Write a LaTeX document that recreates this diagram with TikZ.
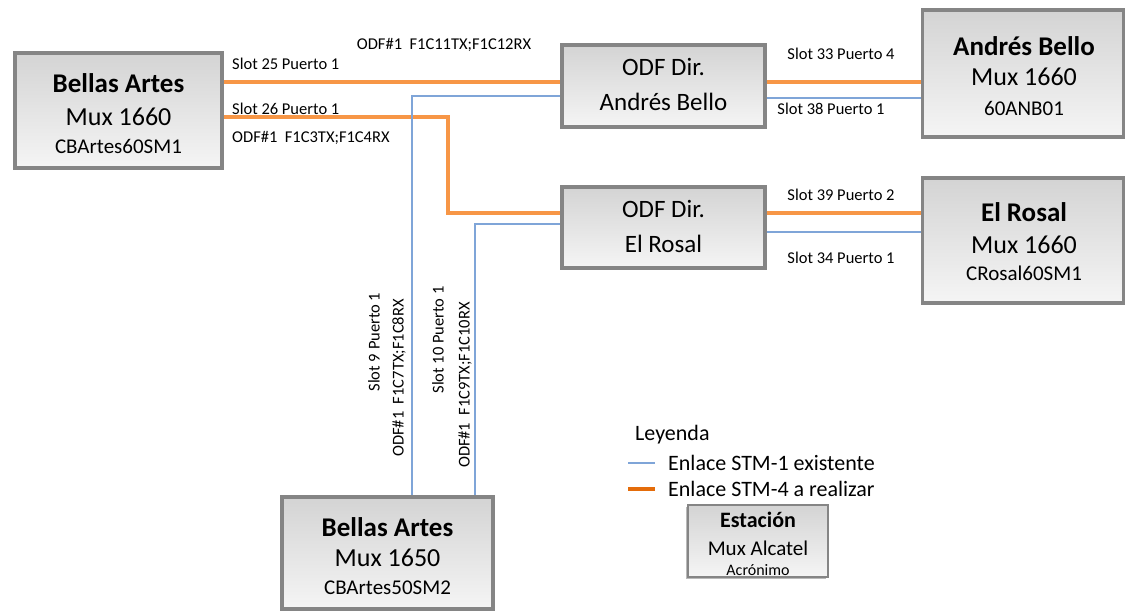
\documentclass[tikz,border=0pt]{standalone}
\usepackage{fontspec}
\setmainfont{Carlito}
\usepackage{tikz}
\usetikzlibrary{shadows,calc}

\definecolor{naranja}{HTML}{F79646}
\definecolor{naranjaleg}{HTML}{E46C0A}
\definecolor{azul}{HTML}{7FA5D8}
\definecolor{borde}{HTML}{858585}

\tikzset{
  caja/.style={draw=borde, line width=3.2pt, top color=black!17, bottom color=black!4,
    drop shadow={shadow xshift=-1.6pt, shadow yshift=-1.8pt, opacity=.55}},
  stm4/.style={draw=naranja, line width=3.2pt},
  stm1/.style={draw=azul, line width=1.3pt},
  etiq/.style={font=\fontsize{16.5}{19}\selectfont, inner sep=0pt},
  titulo/.style={font=\bfseries\fontsize{27}{31}\selectfont, inner sep=0pt},
  modelo/.style={font=\fontsize{26}{30}\selectfont, inner sep=0pt},
  acron/.style={font=\fontsize{21}{25}\selectfont, inner sep=0pt},
  odftxt/.style={font=\fontsize{25}{29}\selectfont, inner sep=0pt}
}

\begin{document}
\begin{tikzpicture}[x=1pt,y=-1pt]
    \useasboundingbox (0,0) rectangle (1131,613);

    % Bellas Artes Mux 1660
    \node[caja, minimum width=207pt, minimum height=115pt] (ba1) at (118.5,110.5) {};
    \node[titulo] (ba1t) at (118.5,83) {Bellas Artes};
    \node[modelo] (ba1m) at (118.5,117) {Mux 1660};
    \node[acron] (ba1a) at (118.5,146) {CBArtes60SM1};

    % ODF Dir. Andres Bello
    \node[caja, minimum width=203pt, minimum height=82pt] (odfab) at (663.5,86) {};
    \node[odftxt] (odfab1) at (663.5,67) {ODF Dir.};
    \node[odftxt] (odfab2) at (663.5,102) {Andrés Bello};

    % Andres Bello Mux 1660
    \node[caja, minimum width=201pt, minimum height=127pt] (ab) at (1023,73.5) {};
    \node[titulo] (abt) at (1024,46) {Andrés Bello};
    \node[modelo] (abm) at (1024,77) {Mux 1660};
    \node[acron] (aba) at (1024,108) {60ANB01};

    % ODF Dir. El Rosal
    \node[caja, minimum width=203pt, minimum height=81pt] (odfer) at (663.5,227.5) {};
    \node[odftxt] (odfer1) at (663.5,209) {ODF Dir.};
    \node[odftxt] (odfer2) at (663.5,244) {El Rosal};

    % El Rosal Mux 1660
    \node[caja, minimum width=201pt, minimum height=125pt] (er) at (1023,240.5) {};
    \node[titulo] (ert) at (1024,212) {El Rosal};
    \node[modelo] (erm) at (1024,245) {Mux 1660};
    \node[acron] (era) at (1024,273) {CRosal60SM1};

    % Bellas Artes Mux 1650
    \node[caja, minimum width=211pt, minimum height=112pt] (ba2) at (387.5,553) {};
    \node[titulo] (ba2t) at (387.5,527) {Bellas Artes};
    \node[modelo] (ba2m) at (387.5,558) {Mux 1650};
    \node[acron] (ba2a) at (387.5,588) {CBArtes50SM2};

    % Enlaces STM-4
    \draw[stm4] (ba1.east |- 0,82) -- (odfab.west |- 0,82);
    \draw[stm4] (odfab.east |- 0,82) -- (ab.west |- 0,82);
    \draw[stm4] (ba1.east |- 0,117) -| (448,213) -- (odfer.west |- 0,213);
    \draw[stm4] (odfer.east |- 0,213) -- (er.west |- 0,213);

    % Enlaces STM-1
    \draw[stm1] (odfab.west |- 0,96) -| (412,0 |- ba2.north);
    \draw[stm1] (odfab.east |- 0,98) -- (ab.west |- 0,98);
    \draw[stm1] (475,0 |- ba2.north) |- (odfer.west |- 0,224);
    \draw[stm1] (odfer.east |- 0,232) -- (er.west |- 0,232);

    % Etiquetas
    \node[etiq] (l1) at (444,45) {ODF\#1\ \ F1C11TX;F1C12RX};
    \node[etiq, anchor=west] (l2) at (232,64) {Slot 25 Puerto 1};
    \node[etiq, anchor=west] (l3) at (232,109) {Slot 26 Puerto 1};
    \node[etiq, anchor=west] (l4) at (232,138) {ODF\#1\ \ F1C3TX;F1C4RX};
    \node[etiq] (l5) at (841,54) {Slot 33 Puerto 4};
    \node[etiq] (l6) at (831,109) {Slot 38 Puerto 1};
    \node[etiq] (l7) at (841,195) {Slot 39 Puerto 2};
    \node[etiq] (l8) at (841,258) {Slot 34 Puerto 1};
    \node[etiq, rotate=90] (l9) at (374,342) {Slot 9 Puerto 1};
    \node[etiq, rotate=90] (l10) at (399,378) {ODF\#1\ \ F1C7TX;F1C8RX};
    \node[etiq, rotate=90] (l11) at (438,340) {Slot 10 Puerto 1};
    \node[etiq, rotate=90] (l12) at (465,385) {ODF\#1\ \ F1C9TX;F1C10RX};

    % Leyenda
    \node[font=\fontsize{22}{26}\selectfont, inner sep=0pt, anchor=west] (ley) at (635,435) {Leyenda};
    \coordinate (ley1a) at (628,463);
    \coordinate (ley1b) at (655,463);
    \draw[stm1] (ley1a) -- (ley1b);
    \node[font=\fontsize{22}{26}\selectfont, inner sep=0pt, anchor=west] (ley1) at (668,463) {Enlace STM-1 existente};
    \coordinate (ley2a) at (628,489);
    \coordinate (ley2b) at (655,489);
    \draw[stm4, draw=naranjaleg, line width=3.6pt] (ley2a) -- (ley2b);
    \node[font=\fontsize{22}{26}\selectfont, inner sep=0pt, anchor=west] (ley2) at (668,489) {Enlace STM-4 a realizar};
    \node[caja, line width=2.6pt, minimum width=140pt, minimum height=72pt] (est) at (758,541) {};
    \node[font=\bfseries\fontsize{22}{26}\selectfont, inner sep=0pt] (estt) at (758,520) {Estación};
    \node[font=\fontsize{21}{25}\selectfont, inner sep=0pt] (estm) at (758,548) {Mux Alcatel};
    \node[font=\fontsize{16}{19}\selectfont, inner sep=0pt] (esta) at (758,570) {Acrónimo};
\end{tikzpicture}
\end{document}
